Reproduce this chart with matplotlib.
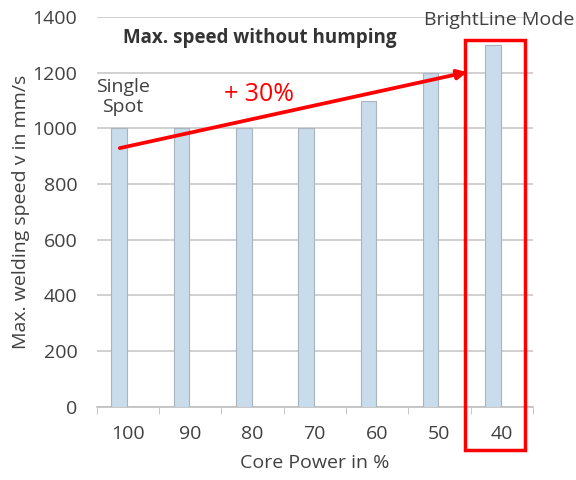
import matplotlib
matplotlib.use("Agg")
import matplotlib.pyplot as plt
from matplotlib.patches import Rectangle

categories = ["100", "90", "80", "70", "60", "50", "40"]
speeds = [1000, 1000, 1000, 1000, 1100, 1200, 1300]
yticks = [0, 200, 400, 600, 800, 1000, 1200, 1400]

plt.rcParams['font.family'] = ['Open Sans', 'DejaVu Sans']
txt = '#404040'

fig = plt.figure(figsize=(5.76, 4.8), dpi=100)
ax = fig.add_axes([0.168, 0.1527, 0.757, 0.8119])

x = list(range(len(categories)))
ax.bar([i - 0.14 for i in x], speeds, width=0.25, color='#c9dcec',
       edgecolor='#aab4be', linewidth=0.8, zorder=3)

ax.set_xlim(-0.5, len(categories) - 0.5)
ax.set_ylim(0, 1400)
ax.set_yticks(yticks)
ax.set_yticklabels([str(v) for v in yticks], fontsize=14, color=txt)
ax.set_xticks(x)
ax.set_xticklabels(categories, fontsize=14, color=txt)
ax.set_xticks([i - 0.5 for i in range(len(categories) + 1)], minor=True)
ax.tick_params(axis='x', which='major', length=0, pad=13)
ax.tick_params(axis='x', which='minor', length=5, color='#bfbfbf', direction='out')
ax.tick_params(axis='y', length=0, pad=14)
ax.grid(axis='y', color='#c8c8c8', linewidth=1.2, zorder=0)
ax.set_axisbelow(True)
for s in ['top', 'right', 'left']:
    ax.spines[s].set_visible(False)
ax.spines['bottom'].set_color('#bfbfbf')
ax.spines['bottom'].set_linewidth(1.2)

ax.set_xlabel('Core Power in %', fontsize=14, color=txt, labelpad=8)
ax.set_ylabel('Max. welding speed v in mm/s', fontsize=14, color=txt, labelpad=2)

ax.text(2.11, 1325, 'Max. speed without humping', fontsize=13.5, fontweight='bold',
        color='#333333', ha='center', va='center', zorder=5)
ax.text(-0.08, 1112, 'Single\nSpot', fontsize=14, color=txt, ha='center', va='center',
        linespacing=1.15, zorder=5)
ax.text(5.96, 1389, 'BrightLine Mode', fontsize=14, color=txt, ha='center', va='center',
        zorder=5, clip_on=False)
ax.text(2.11, 1123, '+ 30%', fontsize=18, color='#ff0000', ha='center', va='center', zorder=5)

ax.annotate('', xy=(5.445, 1202), xytext=(-0.13, 929),
            arrowprops=dict(arrowstyle='-|>', color='#ff0000', lw=2.7,
                            mutation_scale=14, shrinkA=0, shrinkB=0), zorder=6)

ax.add_patch(Rectangle((5.41, -156), 0.965, 1473, fill=False, edgecolor='#ff0000',
                       linewidth=2.5, clip_on=False, zorder=6))

fig.savefig('out.png', dpi=100)
